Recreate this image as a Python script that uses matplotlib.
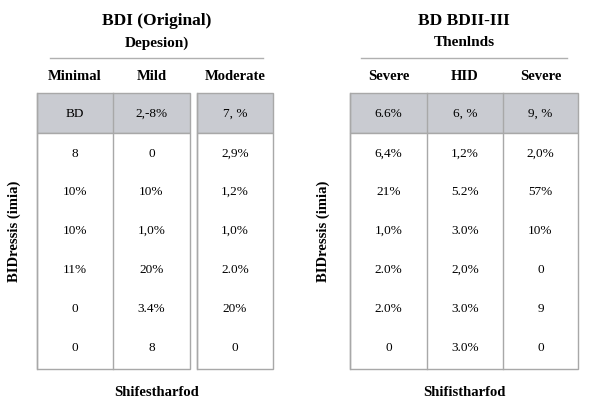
import matplotlib.pyplot as plt
from matplotlib.patches import Rectangle

# table contents
left_title = ['BDI (Original)', 'Depesion)']
left_cols = ['Minimal', 'Mild', 'Moderate']
left_head = ['BD', '2,-8%', '7, %']
left_rows = [['8', '0', '2,9%'],
             ['10%', '10%', '1,2%'],
             ['10%', '1,0%', '1,0%'],
             ['11%', '20%', '2.0%'],
             ['0', '3.4%', '20%'],
             ['0', '8', '0']]

right_title = ['BD BDII-III', 'Thenlnds']
right_cols = ['Severe', 'HID', 'Severe']
right_head = ['6.6%', '6, %', '9, %']
right_rows = [['6,4%', '1,2%', '2,0%'],
              ['21%', '5.2%', '57%'],
              ['1,0%', '3.0%', '10%'],
              ['2.0%', '2,0%', '0'],
              ['2.0%', '3.0%', '9'],
              ['0', '3.0%', '0']]

ylabel = 'BIDressis (imia)'
xlabels = ['Shifestharfod', 'Shifistharfod']

plt.rcParams['font.family'] = 'Liberation Serif'
fig = plt.figure(figsize=(6, 4.2), dpi=100)
ax = fig.add_axes([0, 0, 1, 1])
ax.set_xlim(0, 600)
ax.set_ylim(420, 0)
ax.axis('off')

edge = '#a8a8a8'
head_fill = '#c9cbd1'
row_y = [154, 192, 231, 270, 309, 348]


def draw_table(col_edges, boxes, title, cols, head, rows, line_x, ylab_x, xlab):
    cx = [(col_edges[i][0] + col_edges[i][1]) / 2 for i in range(3)]
    mid = (line_x[0] + line_x[1]) / 2
    ax.text(mid, 21, title[0], ha='center', va='center', fontsize=12.5, weight='bold')
    ax.text(mid, 43, title[1], ha='center', va='center', fontsize=11, weight='bold')
    ax.plot(line_x, [58, 58], color='#b0b0b0', lw=1)
    for x0, x1 in boxes:
        ax.add_patch(Rectangle((x0, 93), x1 - x0, 40, facecolor=head_fill, edgecolor=edge, lw=1))
        ax.add_patch(Rectangle((x0, 133), x1 - x0, 236, facecolor='white', edgecolor=edge, lw=1))
    for x0, x1 in col_edges:
        ax.plot([x0, x0], [93, 369], color=edge, lw=1)
    for i in range(3):
        ax.text(cx[i], 77, cols[i], ha='center', va='center', fontsize=10.5, weight='bold')
        ax.text(cx[i], 114, head[i], ha='center', va='center', fontsize=9.5)
        for r, y in enumerate(row_y):
            ax.text(cx[i], y, rows[r][i], ha='center', va='center', fontsize=9.5)
    ax.text(ylab_x, 231, ylabel, ha='center', va='center', rotation=90, fontsize=10.5, weight='bold')
    ax.text(mid, 392, xlab, ha='center', va='center', fontsize=10.5, weight='bold')


draw_table([(37, 113), (113, 190), (197, 273)], [(37, 190), (197, 273)],
           left_title, left_cols, left_head, left_rows, [50, 263], 14, xlabels[0])
draw_table([(350, 427), (427, 503), (503, 578)], [(350, 578)],
           right_title, right_cols, right_head, right_rows, [361, 567], 323, xlabels[1])

fig.savefig('out.png', dpi=100)
